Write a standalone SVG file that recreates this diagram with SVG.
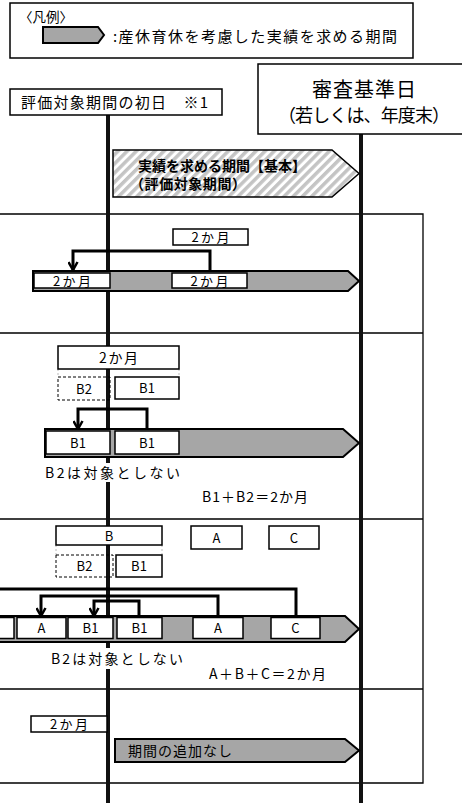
<svg xmlns="http://www.w3.org/2000/svg" width="462" height="803" viewBox="0 0 462 803">
<style>
.jp{font-family:"Noto Sans CJK JP","Noto Sans",sans-serif;fill:#000}
.box{fill:#fff;stroke:#000;stroke-width:1.5}
.dash{fill:none;stroke:#000;stroke-width:1;stroke-dasharray:3 2}
.faint{fill:none;stroke:#bbb;stroke-width:1;stroke-dasharray:2 2}
.bar{fill:#a6a6a6;stroke:#000;stroke-width:2}
.vline{stroke:#111;stroke-width:4}
.conn{fill:none;stroke:#000;stroke-width:3}
.sec{fill:none;stroke:#000;stroke-width:1.3}
.c{text-anchor:middle}
</style>
<defs>
<pattern id="hatch" patternUnits="userSpaceOnUse" width="6.5" height="6.5" patternTransform="rotate(45)">
<rect width="6.5" height="6.5" fill="#fff"/><rect width="3.5" height="6.5" fill="#c4c4c4"/>
</pattern>
<marker id="arr" viewBox="0 0 10 10" refX="9" refY="5" markerWidth="10" markerHeight="11" markerUnits="userSpaceOnUse" orient="auto">
<path d="M1,0.5 L9,5 L1,9.5" fill="none" stroke="#000" stroke-width="2.5"/>
</marker>
</defs>
<rect width="462" height="803" fill="#fff"/>

<!-- section frames -->
<g id="sections">
<path class="sec" d="M-5,214 H423 V783 H-5 M-5,333 H423 M-5,519 H423 M-5,689 H423"/>
</g>

<!-- timeline lines -->
<g id="timelines">
<line class="vline" x1="108" y1="115" x2="108" y2="803"/>
<line class="vline" x1="361" y1="134" x2="361" y2="803"/>
</g>

<g id="legend">
<rect x="10" y="3" width="403" height="55" fill="#fff" stroke="#000" stroke-width="1.5"/>
<text class="jp" x="19" y="22" font-size="13.5">〈凡例〉</text>
<path class="bar" d="M43,27 H98 L104,35 L98,43 H43 Z"/>
<text class="jp" x="113" y="42" font-size="15" textLength="284" lengthAdjust="spacing">:産休育休を考慮した実績を求める期間</text>
</g>

<g id="start-day">
<rect class="box" x="10" y="89" width="212" height="26"/>
<text class="jp" x="21" y="108" font-size="15" textLength="187" lengthAdjust="spacing">評価対象期間の初日　※1</text>
</g>

<g id="review-day">
<rect class="box" x="258" y="64" width="212" height="70"/>
<text class="jp c" x="364" y="97" font-size="20" textLength="104" lengthAdjust="spacing">審査基準日</text>
<text class="jp c" x="364" y="122" font-size="18" textLength="172" lengthAdjust="spacing">（若しくは、年度末）</text>
</g>

<g id="basic-period">
<path d="M113,150 H332 L359,173.5 L332,197 H113 Z" fill="url(#hatch)" stroke="#000" stroke-width="1.5"/>
<text class="jp" x="138" y="171" font-size="14" font-weight="bold" textLength="168" lengthAdjust="spacing">実績を求める期間【基本】</text>
<text class="jp" x="130" y="189" font-size="14" font-weight="bold" textLength="116" lengthAdjust="spacing">（評価対象期間）</text>
</g>

<!-- case 1 -->
<g id="case1-top">
<rect class="box" x="173" y="229" width="75" height="16"/>
<text class="jp c" x="210.5" y="242" font-size="13" textLength="38" lengthAdjust="spacing">2か月</text>
</g>
<g id="case1-bar">
<path class="bar" d="M33,271 H348 L359,281 L348,291 H33 Z"/>
<rect class="box" x="34" y="273" width="76" height="15"/>
<text class="jp c" x="72" y="285.5" font-size="13" textLength="38" lengthAdjust="spacing">2か月</text>
<rect class="box" x="172" y="273" width="75" height="15"/>
<text class="jp c" x="209.5" y="285.5" font-size="13" textLength="38" lengthAdjust="spacing">2か月</text>
</g>

<!-- case 2 -->
<g id="case2-top">
<path class="faint" d="M58,369 V377 M179,369 V377"/>
<rect class="box" x="58" y="346" width="121" height="23"/>
<text class="jp c" x="118.5" y="363" font-size="14" textLength="39" lengthAdjust="spacing">2か月</text>
</g>
<g id="case2-b2">
<rect class="dash" x="58" y="377" width="52" height="23"/>
<text class="jp c" x="84" y="393.5" font-size="13">B2</text>
</g>
<g id="case2-b1">
<rect class="box" x="115" y="377" width="64" height="22"/>
<text class="jp c" x="147" y="393" font-size="13">B1</text>
</g>
<g id="case2-bar">
<path class="bar" d="M45,429 H343 L359,443 L343,457 H45 Z"/>
<rect class="box" x="46" y="431" width="64" height="23"/>
<text class="jp c" x="78" y="447.5" font-size="13">B1</text>
<rect class="box" x="115" y="431" width="64" height="23"/>
<text class="jp c" x="147" y="447.5" font-size="13">B1</text>
</g>
<g id="case2-notes">
<rect x="44" y="463" width="140" height="19" fill="#fff"/>
<text class="jp" x="45" y="477.5" font-size="14" textLength="135" lengthAdjust="spacing">B2は対象としない</text>
<text class="jp" x="202" y="502" font-size="14" textLength="106" lengthAdjust="spacing">B1＋B2＝2か月</text>
</g>

<!-- case 3 -->
<g id="case3-b">
<path class="faint" d="M56,545 V555 M162,545 V555"/>
<rect class="box" x="56" y="526" width="106" height="19"/>
<text class="jp c" x="109" y="540.5" font-size="13">B</text>
</g>
<g id="case3-a">
<rect class="box" x="191" y="526" width="51" height="23"/>
<text class="jp c" x="216.5" y="542.5" font-size="13">A</text>
</g>
<g id="case3-c">
<rect class="box" x="269" y="526" width="50" height="23"/>
<text class="jp c" x="294" y="542.5" font-size="13">C</text>
</g>
<g id="case3-b2">
<rect class="dash" x="56" y="555" width="57" height="22"/>
<text class="jp c" x="84.5" y="571" font-size="13">B2</text>
</g>
<g id="case3-b1">
<rect class="box" x="116" y="555" width="46" height="22"/>
<text class="jp c" x="139" y="571" font-size="13">B1</text>
</g>
<g id="case3-bar">
<path class="bar" d="M-5,616 H345 L359,629 L345,642 H-5 Z"/>
<rect class="box" x="-5" y="617.5" width="19" height="21"/>
<rect class="box" x="17" y="617.5" width="49" height="21"/>
<text class="jp c" x="41.5" y="633" font-size="13">A</text>
<rect class="box" x="68" y="617.5" width="45" height="21"/>
<text class="jp c" x="90.5" y="633" font-size="13">B1</text>
<rect class="box" x="117" y="617.5" width="45" height="21"/>
<text class="jp c" x="139.5" y="633" font-size="13">B1</text>
<rect class="box" x="193" y="617.5" width="50" height="21"/>
<text class="jp c" x="218" y="633" font-size="13">A</text>
<rect class="box" x="271" y="617.5" width="49" height="21"/>
<text class="jp c" x="295.5" y="633" font-size="13">C</text>
</g>
<g id="case3-notes">
<rect x="50" y="648" width="136" height="21" fill="#fff"/>
<text class="jp" x="51" y="663.5" font-size="14" textLength="132" lengthAdjust="spacing">B2は対象としない</text>
<text class="jp" x="209" y="678.5" font-size="14" textLength="117" lengthAdjust="spacing">A＋B＋C＝2か月</text>
</g>

<!-- case 4 -->
<g id="case4-top">
<rect class="box" x="31" y="716" width="76" height="16"/>
<text class="jp c" x="69" y="729" font-size="13" textLength="38" lengthAdjust="spacing">2か月</text>
</g>
<g id="case4-bar">
<path class="bar" d="M115,739 H345 L359,750.5 L345,762 H115 Z"/>
<text class="jp" x="128" y="756" font-size="14" textLength="104" lengthAdjust="spacing">期間の追加なし</text>
</g>

<!-- connectors -->
<g id="connectors">
<path class="conn" d="M210,271 V251 H73 V270" marker-end="url(#arr)"/>
<path class="conn" d="M147,429 V409 H78 V429" marker-end="url(#arr)"/>
<path class="conn" d="M296,616 V589 H-5"/>
<path class="conn" d="M218,616 V596 H41 V616" marker-end="url(#arr)"/>
<path class="conn" d="M139,616 V601 H94 V616" marker-end="url(#arr)"/>
</g>
</svg>
